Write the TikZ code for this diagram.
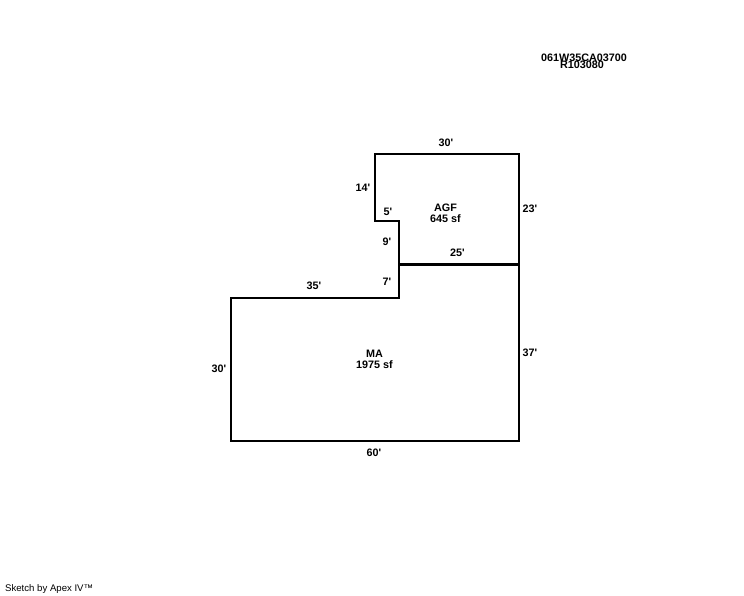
\documentclass[tikz,border=0pt]{standalone}
\usepackage{fontspec}
\newfontfamily\plainsans{Liberation Sans}
\tikzset{
  dim/.style={font=\plainsans\bfseries\fontsize{10.8}{10.8}\selectfont,inner sep=0pt,text=black},
  wall/.style={draw=black,line width=2pt,line join=miter,line cap=rect},
  party/.style={draw=black,line width=3pt},
}
\begin{document}
\begin{tikzpicture}[x=1pt,y=-1pt]
\useasboundingbox[fill=white] (0,0) rectangle (744,595);
\coordinate (a) at (375,154);
\coordinate (b) at (519,154);
\coordinate (c) at (519,441);
\coordinate (d) at (231,441);
\coordinate (e) at (231,298);
\coordinate (f) at (399,298);
\coordinate (g) at (399,221);
\coordinate (h) at (375,221);
\coordinate (i) at (399,264.5);
\coordinate (j) at (519,264.5);
\draw[wall] (a) -- (b) -- (c) -- (d) -- (e) -- (f) -- (g) -- (h) -- cycle;
\draw[party] (i) -- (j);
\node[dim] (t1) at (584,57.5) {061W35CA03700};
\node[dim] (t2) at (582,65) {R103080};
\node[dim] (l30t) at (446,142.5) {30'};
\node[dim] (l14) at (363,187.5) {14'};
\node[dim] (l5) at (388,212) {5'};
\node[dim] (agf) at (445.5,208) {AGF};
\node[dim] (agfa) at (445.5,219) {645 sf};
\node[dim] (l23) at (530,209) {23'};
\node[dim] (l9) at (387,242) {9'};
\node[dim] (l25) at (457.5,252.5) {25'};
\node[dim] (l7) at (387,281.5) {7'};
\node[dim] (l35) at (314,286) {35'};
\node[dim] (ma) at (374.5,353.5) {MA};
\node[dim] (maa) at (374.5,364.5) {1975 sf};
\node[dim] (l37) at (530,353) {37'};
\node[dim] (l30l) at (219,369) {30'};
\node[dim] (l60) at (374,453) {60'};
\node[inner sep=0pt,anchor=west,font=\plainsans\fontsize{9.6}{9.6}\selectfont] (src) at (5,589) {Sketch by Apex IV™};
\end{tikzpicture}
\end{document}
